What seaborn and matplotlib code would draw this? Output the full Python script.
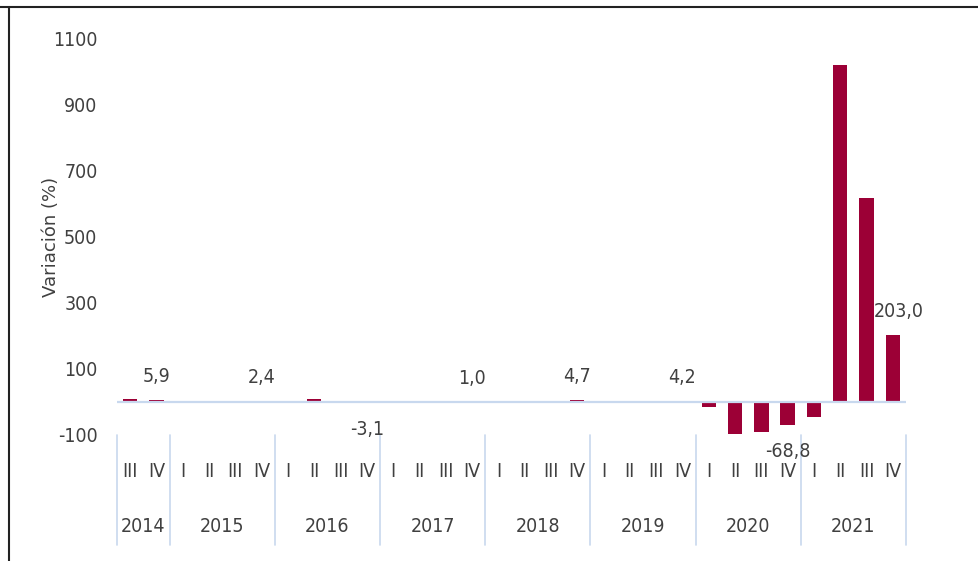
import matplotlib
matplotlib.use("Agg")
import matplotlib.pyplot as plt
import matplotlib.transforms as mtransforms
from matplotlib import font_manager as fm
from matplotlib.lines import Line2D
import pandas as pd
import seaborn as sns

# datos trimestrales (variación %)
anios = ["2014", "2015", "2016", "2017", "2018", "2019", "2020", "2021"]
trimestres = ["III", "IV",
              "I", "II", "III", "IV",
              "I", "II", "III", "IV",
              "I", "II", "III", "IV",
              "I", "II", "III", "IV",
              "I", "II", "III", "IV",
              "I", "II", "III", "IV",
              "I", "II", "III", "IV"]
anio_trimestre = ["2014"] * 2 + [a for a in anios[1:] for _ in range(4)]
variacion = [9.5, 5.9,
             4.1, 3.0, 2.8, 2.4,
             1.5, 9.0, -1.2, -3.1,
             -2.0, 0.5, 1.5, 1.0,
             3.1, 2.5, 3.9, 4.7,
             4.5, 3.8, 4.0, 4.2,
             -16.5, -96.0, -90.5, -68.8,
             -45.0, 1021.0, 618.0, 203.0]
etiquetas = {1: "5,9", 5: "2,4", 9: "-3,1", 13: "1,0", 17: "4,7",
             21: "4,2", 25: "-68,8", 29: "203,0"}

df = pd.DataFrame({
    "periodo": [f"{a}-{t}" for a, t in zip(anio_trimestre, trimestres)],
    "variacion": variacion,
})

sns.set_theme(style="white")

# fuente estrecha si existe, si no Roboto
fuentes = {(f.name, f.stretch) for f in fm.fontManager.ttflist}
nombres = {n for n, _ in fuentes}
estirar = "normal"
tam = 13
if "Liberation Sans Narrow" in nombres:
    familia, tam = "Liberation Sans Narrow", 15
elif ("DejaVu Sans", "condensed") in fuentes or ("DejaVu Sans", 75) in fuentes:
    familia, estirar, tam = "DejaVu Sans", "condensed", 14
else:
    familia = "Roboto"
plt.rcParams["font.family"] = [familia, "DejaVu Sans"]
plt.rcParams["font.stretch"] = estirar

color_barra = "#9C0036"
color_linea = "#C8D8EE"
color_texto = "#404040"

fig = plt.figure(figsize=(9.79, 5.61), dpi=100)
ax = fig.add_axes([117 / 979, 126 / 561, 789 / 979, 396 / 561])

sns.barplot(data=df, x="periodo", y="variacion", order=df["periodo"],
            color=color_barra, width=0.55, saturation=1, linewidth=0, ax=ax)
ax.axhline(0, color=color_linea, lw=1.6, zorder=3)

ax.set_xlim(-0.5, len(df) - 0.5)
ax.set_ylim(-100, 1100)
ax.set_yticks(range(-100, 1101, 200))
ax.set_yticklabels([str(v) for v in range(-100, 1101, 200)],
                   fontsize=tam, color=color_texto)
ax.tick_params(axis="y", length=0, pad=14)
ax.set_xticks([])
ax.set_xlabel("")
ax.set_ylabel("Variación (%)", fontsize=13, color=color_texto,
              family="DejaVu Sans", stretch="normal")
ax.yaxis.set_label_coords(-0.072, 0.5)
for s in ax.spines.values():
    s.set_visible(False)

# etiquetas de datos
for i, txt in etiquetas.items():
    v = variacion[i]
    dy = 17 if v >= 0 else -19
    dx = 4 if i == len(variacion) - 1 else 0
    ax.annotate(txt, (i, v), xytext=(dx, dy), textcoords="offset points",
                ha="center", va="center", fontsize=tam, color=color_texto,
                zorder=4)

# eje de categorías en dos niveles
trans = mtransforms.blended_transform_factory(ax.transData, ax.transAxes)
for i, t in enumerate(trimestres):
    ax.text(i, -0.092, t, transform=trans, ha="center", va="center",
            fontsize=tam, color=color_texto)

limites = [-0.5, 1.5]
for k in range(1, len(anios)):
    limites.append(limites[-1] + 4)
for x in limites:
    ax.add_line(Line2D([x, x], [0, -0.278], transform=trans, color=color_linea,
                       lw=1.2, clip_on=False))
for a, x0, x1 in zip(anios, limites[:-1], limites[1:]):
    ax.text((x0 + x1) / 2, -0.232, a, transform=trans, ha="center",
            va="center", fontsize=tam, color=color_texto)

# marco de la imagen
fig.add_artist(Line2D([0, 1], [1 - 7 / 561] * 2, transform=fig.transFigure,
                      color="#222222", lw=1.5))
fig.add_artist(Line2D([9 / 979] * 2, [0, 1 - 7 / 561], transform=fig.transFigure,
                      color="#222222", lw=1.5))

fig.savefig("out.png", dpi=100)
